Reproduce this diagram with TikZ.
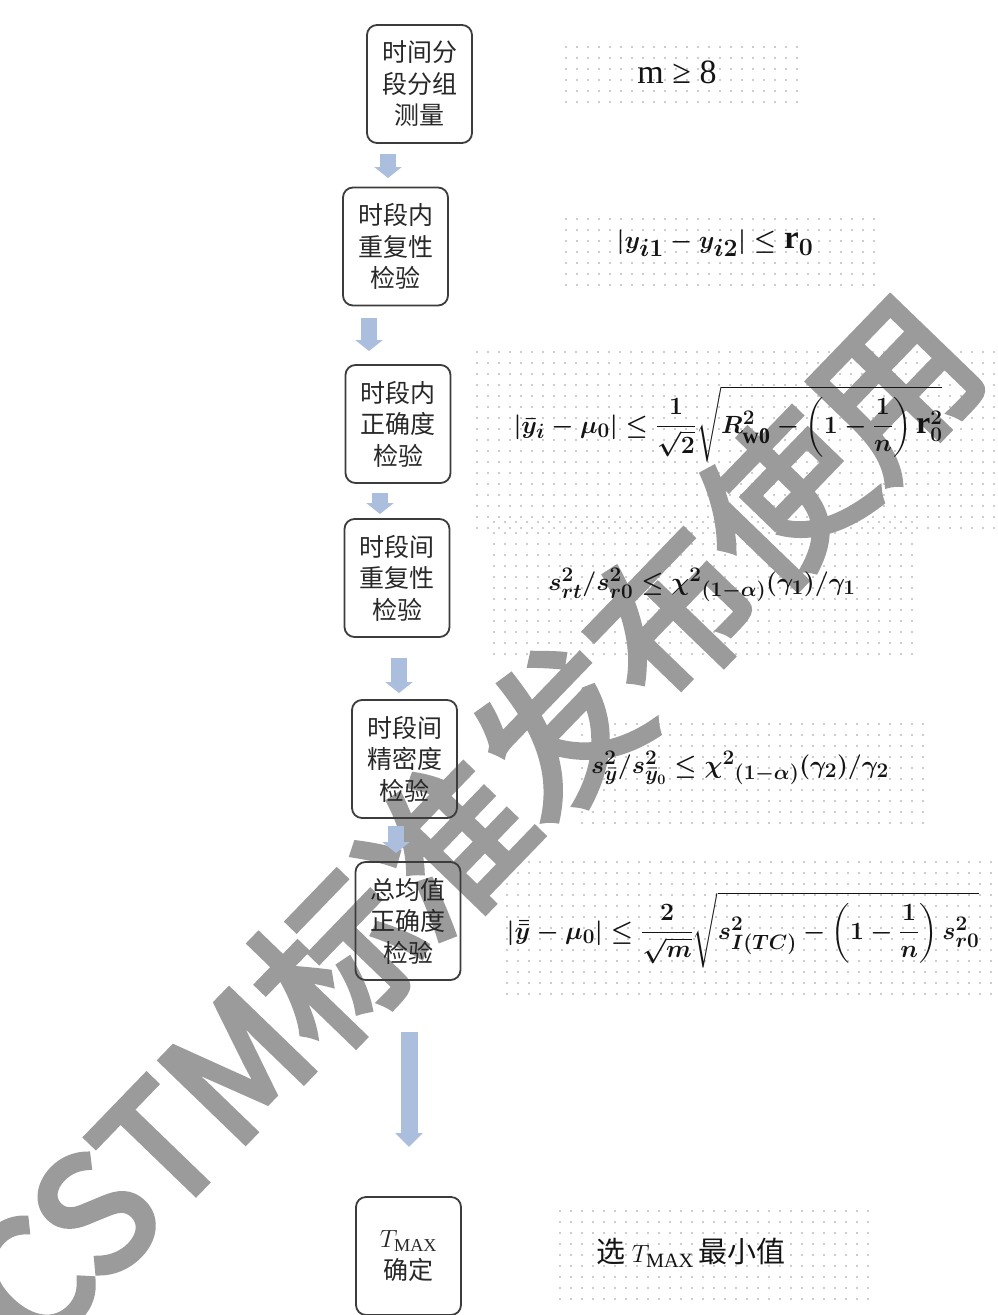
\documentclass[tikz,border=0pt]{standalone}
\usepackage{amsmath}
\usepackage{fontspec}
\setmainfont{Liberation Serif}
\newfontfamily\cjk{Noto Sans CJK SC}
\newfontfamily\cjkwm{Noto Sans CJK SC}[FakeBold=4]
\usetikzlibrary{arrows.meta}
\definecolor{boxline}{RGB}{60,60,60}
\definecolor{arrowc}{RGB}{172,190,222}
\definecolor{dotc}{RGB}{205,205,205}
\definecolor{wmgray}{RGB}{155,155,155}
\definecolor{txt}{RGB}{40,40,40}
\definecolor{ftxt}{RGB}{20,20,20}
\newcommand\dotpanel[4]{%
  \pgfmathtruncatemacro\nx{(#3-#1)/11}%
  \pgfmathtruncatemacro\ny{(#4-#2)/11}%
  \foreach \i in {0,...,\nx}{\foreach \j in {0,...,\ny}{%
    \fill[dotc] (#1+4+11*\i-0.6,#2+4+11*\j-1.3) rectangle ++(1.2,2.6);}}}
\tikzset{
  stepbox/.style={draw=boxline, line width=1.8pt, rounded corners=10pt,
    minimum width=105pt, minimum height=118pt, inner sep=0pt,
    align=center, text=txt, font=\cjk\fontsize{25}{31.5}\selectfont},
  formula/.style={inner sep=0pt, text=ftxt, font=\boldmath\fontsize{33}{38}\selectfont},
  blk/.style={draw=arrowc, line width=16pt,
    -{Triangle[width=27pt,length=11pt]}},
  bigblk/.style={draw=arrowc, line width=17pt,
    -{Triangle[width=27pt,length=14pt]}},
  watermark/.style={text=wmgray, font=\cjkwm\fontsize{160}{160}\selectfont, inner sep=0pt}
}
\begin{document}
\begin{tikzpicture}[x=1pt,y=-1pt]
\useasboundingbox (0,0) rectangle (998,1315);
\fill[white] (0,0) rectangle (998,1315);
% dotted panels
\dotpanel{562}{43}{793}{104}
\dotpanel{562}{215}{872}{290}
\dotpanel{473}{348}{995}{530}
\dotpanel{490}{518}{915}{655}
\dotpanel{578}{720}{925}{820}
\dotpanel{503}{858}{990}{995}
\dotpanel{556}{1207}{868}{1300}
% watermark
\node[watermark, rotate=46] (wm) at (470,822) {CSTM标准发布使用};
% boxes
\node[stepbox] (b1) at (419.5,84) {时间分\\段分组\\测量};
\node[stepbox] (b2) at (395.5,246.5) {时段内\\重复性\\检验};
\node[stepbox] (b3) at (398,424) {时段内\\正确度\\检验};
\node[stepbox] (b4) at (397,578) {时段间\\重复性\\检验};
\node[stepbox] (b5) at (404.5,759) {时段间\\精密度\\检验};
\node[stepbox] (b6) at (408,921) {总均值\\正确度\\检验};
\node[stepbox] (b7) at (408.5,1256) {\fontsize{26}{40}\selectfont$T_{\mathrm{MAX}}$\\确定};
% formulas
\node[formula] (f1) at (677,72) {\fontsize{34}{38}\selectfont m ≥ 8};
\node[formula] (f2) at (715,243) {$|y_{i1}-y_{i2}|\le \mathrm{r}_0$};
\node[formula, font=\boldmath\fontsize{32}{37}\selectfont] (f3) at (728,424) {$\displaystyle |\bar{y}_i-\mu_0|\le\frac{1}{\sqrt{2}}\sqrt{R^2_{\mathrm{w0}}-\left(1-\frac{1}{n}\right)\mathrm{r}_0^2}$};
\node[formula, font=\boldmath\fontsize{29.5}{34}\selectfont] (f4) at (702,585) {$s^2_{rt}/s^2_{r0}\le\chi^2{}_{(1-\alpha)}(\gamma_1)/\gamma_1$};
\node[formula, font=\boldmath\fontsize{30.5}{35}\selectfont] (f5) at (740,768) {$s^2_{\bar{y}}/s^2_{\bar{y}_0}\le\chi^2{}_{(1-\alpha)}(\gamma_2)/\gamma_2$};
\node[formula, font=\boldmath\fontsize{28.5}{33}\selectfont] (f6) at (743,930) {$\displaystyle |\bar{\bar{y}}-\mu_0|\le\frac{2}{\sqrt{m}}\sqrt{s^2_{I(TC)}-\left(1-\frac{1}{n}\right)s^2_{r0}}$};
\node[formula, font=\fontsize{29}{34}\selectfont] (f7) at (691,1253) {\cjk 选 \normalfont$T_{\mathrm{MAX}}$\,\cjk 最小值};
% block arrows
\coordinate (a1s) at (388,154); \coordinate (a1e) at (388,178);
\coordinate (a2s) at (369,318); \coordinate (a2e) at (369,351);
\coordinate (a3s) at (380,493); \coordinate (a3e) at (380,514);
\coordinate (a4s) at (399,658); \coordinate (a4e) at (399,693);
\coordinate (a5s) at (396,826); \coordinate (a5e) at (396,853);
\coordinate (a6s) at (409,1032); \coordinate (a6e) at (409,1147);
\draw[blk] (a1s) -- (a1e);
\draw[blk] (a2s) -- (a2e);
\draw[blk] (a3s) -- (a3e);
\draw[blk] (a4s) -- (a4e);
\draw[blk] (a5s) -- (a5e);
\draw[bigblk] (a6s) -- (a6e);
\end{tikzpicture}
\end{document}
